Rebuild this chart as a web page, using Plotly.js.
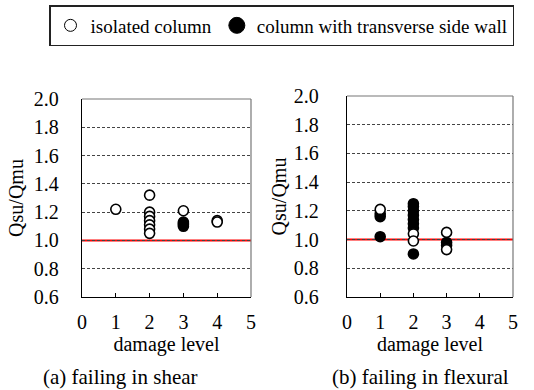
<!DOCTYPE html>
<html>
<head>
<meta charset="utf-8">
<script src="https://cdn.plot.ly/plotly-3.0.1.min.js"></script>
<style>html,body{margin:0;padding:0;background:#fff;}#chart{width:534px;height:390px;}</style>
</head>
<body>
<div id="chart"></div>
<script>
// ---- data ----
const legendNames = ["isolated column", "column with transverse side wall"];
const xTicks = [0, 1, 2, 3, 4, 5];
const yTicks = [0.6, 0.8, 1.0, 1.2, 1.4, 1.6, 1.8, 2.0];
const refLevel = 1.0;

// (a) failing in shear
const shearIsoX = [1, 2, 2, 2, 2, 2, 2, 2, 3, 4, 4];
const shearIsoY = [1.22, 1.32, 1.20, 1.17, 1.14, 1.11, 1.08, 1.05, 1.21, 1.14, 1.13];
const shearWallX = [3, 3, 3, 3];
const shearWallY = [1.13, 1.12, 1.11, 1.10];

// (b) failing in flexural
const flexIsoX = [1, 2, 2, 3, 3];
const flexIsoY = [1.21, 1.04, 0.99, 1.05, 0.93];
const flexWallX = [1, 1, 1, 2, 2, 2, 2, 2, 2, 2, 2, 3, 3];
const flexWallY = [1.18, 1.16, 1.02, 1.25, 1.23, 1.20, 1.17, 1.14, 1.11, 1.08, 0.90, 0.98, 0.96];

const subTitles = ["(a) failing in shear", "(b) failing in flexural"];
const xTitle = "damage level";
const yTitle = "Qsu/Qmu";

// ---- styling ----
const FONT = "Liberation Serif, Times New Roman, serif";
const FS = 20;
const W = 534, H = 390;
const px = v => v / W, py = v => 1 - v / H;

const openMarker = {symbol: "circle", size: 10, color: "#ffffff", line: {color: "#000", width: 1.6}};
const fillMarker = {symbol: "circle", size: 10, color: "#000000", line: {color: "#000", width: 1.6}};

const traces = [
  {x: shearWallX, y: shearWallY, xaxis: "x", yaxis: "y", mode: "markers", marker: fillMarker, showlegend: false},
  {x: shearIsoX, y: shearIsoY, xaxis: "x", yaxis: "y", mode: "markers", marker: openMarker, showlegend: false},
  {x: flexWallX, y: flexWallY, xaxis: "x2", yaxis: "y2", mode: "markers", marker: fillMarker, showlegend: false},
  {x: flexIsoX, y: flexIsoY, xaxis: "x2", yaxis: "y2", mode: "markers", marker: openMarker, showlegend: false},
  // legend entries
  {x: [null], y: [null], mode: "markers", name: legendNames[0], legendrank: 1,
   marker: {symbol: "circle", size: 12, color: "#fff", line: {color: "#000", width: 1}}},
  {x: [null], y: [null], mode: "markers", name: legendNames[1], legendrank: 2,
   marker: {symbol: "circle", size: 16, color: "#000", line: {color: "#000", width: 1}}}
];

function xAxis(dom, anchor) {
  return {
    domain: dom, anchor: anchor, range: [0, 5], tickvals: xTicks, ticktext: xTicks.map(String),
    showline: true, linecolor: "#000", linewidth: 1.2, mirror: false,
    ticks: "inside", ticklen: 4, tickcolor: "#000", tickwidth: 1,
    showgrid: false, zeroline: false, ticklabelstandoff: 7,
    tickfont: {family: FONT, size: FS, color: "#000"},
    title: {text: xTitle, font: {family: FONT, size: FS, color: "#000"}, standoff: 0}
  };
}
function yAxis(dom, anchor, standoff, tstand) {
  return {
    domain: dom, anchor: anchor, range: [0.6, 2.0], tickvals: yTicks, tickformat: ".1f",
    showline: true, linecolor: "#000", linewidth: 1.2, mirror: false,
    ticks: "", showgrid: true, gridcolor: "#444", gridwidth: 1, griddash: "3px,2px",
    zeroline: false, ticklabelstandoff: standoff,
    tickfont: {family: FONT, size: FS, color: "#000"},
    title: {text: yTitle, font: {family: FONT, size: FS, color: "#000"}, standoff: tstand}
  };
}

const layout = {
  width: W, height: H,
  margin: {l: 0, r: 0, t: 0, b: 0, autoexpand: false},
  paper_bgcolor: "#fff", plot_bgcolor: "#fff",
  font: {family: FONT, size: FS, color: "#000"},
  xaxis: xAxis([px(82), px(251)], "y"),
  yaxis: yAxis([py(297), py(99)], "x", 18, 4),
  xaxis2: xAxis([px(347), px(513)], "y2"),
  yaxis2: yAxis([py(297), py(96)], "x2", 23, 1),
  showlegend: true,
  legend: {
    orientation: "h", x: px(49), y: py(5), xanchor: "left", yanchor: "top",
    bordercolor: "#222", borderwidth: 1.5, bgcolor: "#fff",
    font: {family: FONT, size: 19, color: "#000"}, itemwidth: 30, itemsizing: "trace"
  },
  shapes: [
    {type: "line", xref: "x domain", yref: "y domain", x0: 0, x1: 1, y0: 1, y1: 1, line: {color: "#777", width: 1.2}},
    {type: "line", xref: "x domain", yref: "y domain", x0: 1, x1: 1, y0: 0, y1: 1, line: {color: "#777", width: 1.2}},
    {type: "line", xref: "x2 domain", yref: "y2 domain", x0: 0, x1: 1, y0: 1, y1: 1, line: {color: "#777", width: 1.2}},
    {type: "line", xref: "x2 domain", yref: "y2 domain", x0: 1, x1: 1, y0: 0, y1: 1, line: {color: "#777", width: 1.2}},
    {type: "line", xref: "x domain", yref: "y", x0: 0, x1: 1, y0: refLevel, y1: refLevel, layer: "below", line: {color: "#ff0000", width: 2}},
    {type: "line", xref: "x2 domain", yref: "y2", x0: 0, x1: 1, y0: refLevel, y1: refLevel, layer: "below", line: {color: "#ff0000", width: 2}}
  ],
  annotations: [
    {text: subTitles[0], xref: "paper", yref: "paper", x: px(120), y: py(377), xanchor: "center", yanchor: "middle", showarrow: false, font: {family: FONT, size: FS + 1, color: "#000"}},
    {text: subTitles[1], xref: "paper", yref: "paper", x: px(420), y: py(377), xanchor: "center", yanchor: "middle", showarrow: false, font: {family: FONT, size: FS + 1, color: "#000"}}
  ]
};

Plotly.newPlot("chart", traces, layout, {staticPlot: true, displayModeBar: false});
</script>
</body>
</html>
